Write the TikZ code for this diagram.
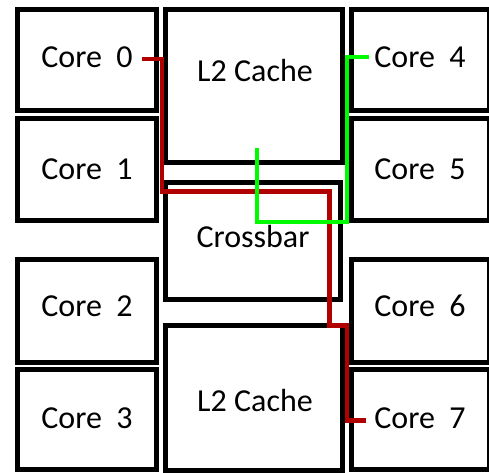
\documentclass[tikz,border=0pt]{standalone}
\usepackage{fontspec}
\setmainfont{Carlito}
\definecolor{pathred}{RGB}{176,0,0}
\definecolor{pathgreen}{RGB}{0,250,0}
\begin{document}
\begin{tikzpicture}[x=1pt,y=-1pt,
  box/.style={draw=black,line width=4.8pt,inner sep=0pt,outer sep=0pt,fill=white},
  lbl/.style={anchor=base,inner sep=0pt,font=\fontsize{32}{38}\selectfont},
  redline/.style={draw=pathred,line width=4.3pt},
  greenline/.style={draw=pathgreen,line width=4.3pt}]
\useasboundingbox (0,0) rectangle (489,472);
\clip (0,0) rectangle (489,472);
% boxes
\node[box,minimum width=139pt,minimum height=101pt] (c0) at (87,60) {};
\node[box,minimum width=139pt,minimum height=102pt] (c1) at (87,169.5) {};
\node[box,minimum width=139pt,minimum height=103pt] (c2) at (87,311) {};
\node[box,minimum width=139pt,minimum height=100pt] (c3) at (87,419.5) {};
\node[box,minimum width=137.5pt,minimum height=101pt] (c4) at (420.25,60) {};
\node[box,minimum width=137.5pt,minimum height=102pt] (c5) at (420.25,169.5) {};
\node[box,minimum width=137.5pt,minimum height=103pt] (c6) at (420.25,311) {};
\node[box,minimum width=137.5pt,minimum height=100pt] (c7) at (420.25,419.5) {};
\node[box,minimum width=177pt,minimum height=153pt] (l2a) at (254,86) {};
\node[box,minimum width=175pt,minimum height=117pt] (xb) at (253,241) {};
\node[box,minimum width=177pt,minimum height=145pt] (l2b) at (254,398) {};
% labels
\node[lbl] (t0) at (87,67.5) {Core~~0};
\node[lbl] (t1) at (87,179) {Core~~1};
\node[lbl] (t2) at (87,316.7) {Core~~2};
\node[lbl] (t3) at (87,428.3) {Core~~3};
\node[lbl] (t4) at (420,67.5) {Core~~4};
\node[lbl] (t5) at (420,179) {Core~~5};
\node[lbl] (t6) at (420,316.7) {Core~~6};
\node[lbl] (t7) at (420,428.3) {Core~~7};
\node[lbl] (tl2a) at (255,81.7) {L2 Cache};
\node[lbl] (txb) at (253,247.3) {Crossbar};
\node[lbl] (tl2b) at (255,411.7) {L2 Cache};
% red path: Core 0 -> Core 7
\coordinate (rs) at (141.7,58.8);
\coordinate (re) at (366,420.5);
\draw[redline] (rs) -- (162,58.8) -- (162,191.5) -- (329.5,191.5) -- (329.5,325.5)
  -- (347,325.5) -- (347,420.5) -- (re);
% green path: Core 4 -> L2 cache
\coordinate (gs) at (369,57.2);
\coordinate (ge) at (257,148.3);
\draw[greenline] (gs) -- (347,57.2) -- (347,222) -- (257,222) -- (ge);
\end{tikzpicture}
\end{document}
